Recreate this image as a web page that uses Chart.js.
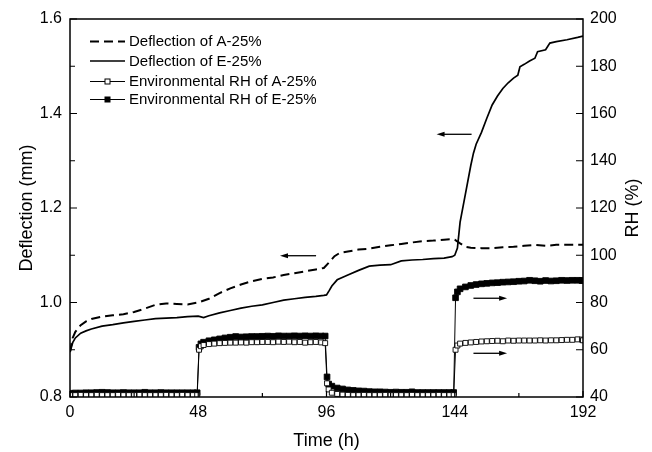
<!DOCTYPE html>
<html>
<head>
<meta charset="utf-8">
<script src="https://cdn.jsdelivr.net/npm/chart.js@4.4.1/dist/chart.umd.min.js"></script>
<style>
  body { margin: 0; background: #fff; }
  #wrap { width: 652px; height: 452px; }
</style>
</head>
<body>
<div id="wrap"><canvas id="chart"></canvas></div>
<script>
// Прогиб (мм)
const defATimes = [0,1,2,4,6,8,12,16,20,24,28,32,36,40,44,48,52,56,60,64,68,72,76,80,84,88,92,95,97,99,101,104,108,112,116,120,124,128,132,136,140,143,144,146,148,150,154,158,162,166,170,174,178,182,186,192];
const defA = [0.895,0.925,0.938,0.952,0.960,0.965,0.970,0.973,0.975,0.980,0.987,0.995,0.998,0.997,0.996,1.000,1.008,1.020,1.030,1.038,1.045,1.050,1.053,1.058,1.062,1.066,1.070,1.073,1.085,1.098,1.105,1.108,1.112,1.114,1.118,1.121,1.124,1.127,1.130,1.131,1.133,1.134,1.133,1.125,1.118,1.116,1.115,1.115,1.117,1.118,1.120,1.122,1.120,1.122,1.122,1.122];

const defETimes = [0,1,2,4,6,8,12,16,20,24,28,32,36,40,44,48,50,52,56,60,64,68,72,76,80,84,88,92,95,96,97,98,100,104,108,112,116,120,124,128,132,136,140,143,144,145,146,148,150,151,152,154,156,158,160,162,164,166,167.6,168.4,170,172,174,175,178,179.6,182,186,190,192];
const defE = [0.895,0.915,0.925,0.935,0.940,0.944,0.950,0.953,0.957,0.960,0.963,0.966,0.967,0.968,0.970,0.971,0.968,0.972,0.978,0.983,0.988,0.992,0.995,1.000,1.005,1.008,1.011,1.013,1.015,1.016,1.025,1.035,1.048,1.058,1.068,1.077,1.079,1.080,1.088,1.090,1.091,1.093,1.094,1.097,1.100,1.115,1.170,1.230,1.290,1.316,1.335,1.360,1.390,1.418,1.437,1.453,1.465,1.475,1.481,1.499,1.504,1.511,1.517,1.531,1.535,1.549,1.552,1.556,1.561,1.564];

// Влажность (%)
const rhTimes = [
  0,2,4,6,8,10,12,14,16,18,20,22,24,26,28,30,32,34,36,38,40,42,44,46,47.6,
  48.3,49,50,52,54,56,58,60,62,64,66,68,70,72,74,76,78,80,82,84,86,88,90,92,94,95.5,
  96.2,96.8,98,100,102,104,106,108,110,112,114,116,118,120,122,124,126,128,130,132,134,136,138,140,142,143.6,
  144.3,145,146,148,150,152,154,156,158,160,162,164,166,168,170,172,174,176,178,180,182,184,186,188,190,191.6,192
];
const rhA = [
  40.8,40.8,40.9,40.8,40.8,40.9,40.8,40.8,40.8,40.9,40.8,40.8,40.8,40.9,40.8,40.8,40.8,40.8,40.9,40.8,40.8,40.9,40.8,40.8,40.8,
  60.0,61.5,62.0,62.4,62.6,62.8,62.9,63.0,63.0,63.1,63.0,63.2,63.2,63.3,63.3,63.2,63.4,63.3,63.4,63.2,63.3,63.0,63.2,63.3,63.1,62.8,
  45.8,43.2,41.8,41.3,41.0,40.9,40.8,40.8,40.9,40.8,40.8,40.8,40.9,40.8,40.8,40.8,40.8,40.9,40.8,40.8,40.8,40.8,40.9,40.8,40.8,40.8,
  60.0,61.8,62.6,62.9,63.1,63.3,63.5,63.6,63.7,63.8,63.6,63.9,63.8,63.9,63.9,63.9,63.9,64.0,63.9,64.0,64.0,64.1,64.2,64.2,64.4,64.3,64.0
];
const rhE = [
  41.6,41.7,41.7,41.8,41.8,41.9,42.0,41.9,41.8,41.8,41.9,41.8,41.8,41.8,42.0,41.8,41.8,41.9,41.8,41.8,41.8,41.8,41.8,41.8,41.8,
  61.0,62.5,63.2,63.8,64.2,64.6,65.0,65.3,65.6,65.4,65.5,65.6,65.6,65.7,65.8,65.7,65.9,65.8,65.8,65.9,65.8,65.9,65.8,65.9,65.8,65.8,
  48.5,45.5,44.6,43.8,43.4,43.0,42.8,42.6,42.5,42.3,42.2,42.2,42.1,42.0,42.1,42.0,42.0,42.2,41.9,41.9,41.9,41.9,41.9,41.9,41.9,41.9,
  82.0,84.5,85.8,86.6,87.2,87.6,87.9,88.1,88.3,88.4,88.6,88.7,88.8,89.0,89.1,89.4,89.2,89.0,89.3,89.1,89.2,89.4,89.3,89.4,89.4,89.3,89.3
];

const seriesNames = ['Deflection of A-25%', 'Deflection of E-25%', 'Environmental RH of A-25%', 'Environmental RH of E-25%'];
const xTicks = [0, 48, 96, 144, 192];

// Стрелки-указатели осей
const arrows = [
  { from: 150.3, to: 137.2, y: 1.356, axis: 'y' },
  { from: 92.1, to: 78.6, y: 1.099, axis: 'y' },
  { from: 151, to: 163.6, y: 81.8, axis: 'y1' },
  { from: 151, to: 163.6, y: 58.5, axis: 'y1' }
];

const FONT = "'Liberation Sans', Arial, sans-serif";
Chart.defaults.font.family = FONT;
Chart.defaults.color = '#000';

function pairs(xs, ys) {
  return xs.map((x, i) => ({ x: x, y: ys[i] }));
}

// Рамка, внутренние засечки и подпись правой оси
const framePlugin = {
  id: 'frame',
  afterDraw(chart) {
    const ctx = chart.ctx;
    const a = chart.chartArea;
    const sx = chart.scales.x, sy = chart.scales.y, sy1 = chart.scales.y1;
    ctx.save();
    ctx.strokeStyle = '#000';
    ctx.lineWidth = 1.5;
    ctx.strokeRect(a.left, a.top, a.right - a.left, a.bottom - a.top);
    ctx.lineWidth = 1.2;
    ctx.beginPath();
    for (let v = 0; v <= 192; v += 24) {
      const px = sx.getPixelForValue(v);
      const len = v % 48 === 0 ? 6 : 4;
      ctx.moveTo(px, a.bottom); ctx.lineTo(px, a.bottom - len);
    }
    for (let i = 0; i <= 8; i++) {
      const py = sy.getPixelForValue(0.8 + i * 0.1);
      const len = i % 2 === 0 ? 7 : 5;
      ctx.moveTo(a.left, py); ctx.lineTo(a.left + len, py);
    }
    for (let v = 40; v <= 200; v += 20) {
      const py = sy1.getPixelForValue(v);
      ctx.moveTo(a.right, py); ctx.lineTo(a.right - 7, py);
    }
    ctx.stroke();

    ctx.translate(633, (a.top + a.bottom) / 2);
    ctx.rotate(-Math.PI / 2);
    ctx.font = '18px ' + FONT;
    ctx.fillStyle = '#000';
    ctx.textAlign = 'center';
    ctx.textBaseline = 'middle';
    ctx.fillText('RH (%)', 0, 0);
    ctx.restore();
  }
};

// Легенда и стрелки
const notesPlugin = {
  id: 'notes',
  afterDatasetsDraw(chart) {
    const ctx = chart.ctx;
    ctx.save();
    ctx.strokeStyle = '#000';
    ctx.fillStyle = '#000';
    arrows.forEach(ar => {
      const x1 = chart.scales.x.getPixelForValue(ar.from);
      const x2 = chart.scales.x.getPixelForValue(ar.to);
      const y = chart.scales[ar.axis].getPixelForValue(ar.y);
      const dir = Math.sign(x2 - x1);
      ctx.lineWidth = 1.3;
      ctx.beginPath();
      ctx.moveTo(x1, y); ctx.lineTo(x2 - dir * 6, y);
      ctx.stroke();
      ctx.beginPath();
      ctx.moveTo(x2, y);
      ctx.lineTo(x2 - dir * 8, y - 2.5);
      ctx.lineTo(x2 - dir * 8, y + 2.5);
      ctx.closePath();
      ctx.fill();
    });

    const rows = [41.5, 61, 81.5, 99.5];
    const lx1 = 90, lx2 = 125;
    ctx.font = '15px ' + FONT;
    ctx.textBaseline = 'middle';
    chart.data.datasets.forEach((ds, i) => {
      const y = rows[i];
      ctx.save();
      ctx.lineWidth = ds.borderWidth;
      ctx.setLineDash(ds.borderDash || []);
      ctx.beginPath();
      ctx.moveTo(lx1, y); ctx.lineTo(lx2, y);
      ctx.stroke();
      ctx.restore();
      if (ds.pointRadius > 0) {
        const cx = (lx1 + lx2) / 2;
        ctx.fillStyle = ds.pointBackgroundColor;
        ctx.fillRect(cx - 2.5, y - 2.5, 5, 5);
        ctx.lineWidth = 1;
        ctx.strokeRect(cx - 2.5, y - 2.5, 5, 5);
        ctx.fillStyle = '#000';
      }
      ctx.fillText(ds.label, 129, y + 0.5);
    });
    ctx.restore();
  }
};

new Chart(document.getElementById('chart'), {
  type: 'line',
  data: {
    datasets: [
      {
        label: seriesNames[0],
        data: pairs(defATimes, defA),
        yAxisID: 'y',
        borderColor: '#000',
        borderWidth: 2,
        borderDash: [9, 5],
        pointRadius: 0,
        tension: 0
      },
      {
        label: seriesNames[1],
        data: pairs(defETimes, defE),
        yAxisID: 'y',
        borderColor: '#000',
        borderWidth: 1.7,
        pointRadius: 0,
        tension: 0
      },
      {
        label: seriesNames[2],
        data: pairs(rhTimes, rhA),
        yAxisID: 'y1',
        borderColor: '#000',
        borderWidth: 1,
        pointStyle: 'rect',
        pointRadius: 3.5,
        pointBorderWidth: 0.9,
        pointBorderColor: '#000',
        pointBackgroundColor: '#fff',
        tension: 0
      },
      {
        label: seriesNames[3],
        data: pairs(rhTimes, rhE),
        yAxisID: 'y1',
        borderColor: '#000',
        borderWidth: 1,
        pointStyle: 'rect',
        pointRadius: 4,
        pointBorderWidth: 0.9,
        pointBorderColor: '#000',
        pointBackgroundColor: '#000',
        tension: 0
      }
    ]
  },
  options: {
    responsive: true,
    maintainAspectRatio: false,
    animation: false,
    layout: { padding: { top: 19, left: 0, right: 0, bottom: 0 } },
    plugins: {
      legend: { display: false },
      tooltip: { enabled: false }
    },
    scales: {
      x: {
        type: 'linear',
        min: 0,
        max: 192,
        afterBuildTicks: s => { s.ticks = xTicks.map(v => ({ value: v })); },
        afterFit: s => { s.height = 55; },
        grid: { display: false, drawTicks: false },
        border: { display: false },
        ticks: { font: { size: 16 }, padding: 6, maxRotation: 0 },
        title: { display: true, text: 'Time (h)', font: { size: 18 }, padding: { top: 0, bottom: 0 } }
      },
      y: {
        position: 'left',
        min: 0.8,
        max: 1.6,
        afterFit: s => { s.width = 70; },
        grid: { display: false, drawTicks: false },
        border: { display: false },
        ticks: { stepSize: 0.2, font: { size: 16 }, padding: 8, callback: v => v.toFixed(1) },
        title: { display: true, text: 'Deflection (mm)', font: { size: 18 }, padding: { top: 16, bottom: 0 } }
      },
      y1: {
        position: 'right',
        min: 40,
        max: 200,
        afterFit: s => { s.width = 69; },
        grid: { display: false, drawTicks: false },
        border: { display: false },
        ticks: { stepSize: 20, font: { size: 16 }, padding: 7 },
        title: { display: false }
      }
    }
  },
  plugins: [framePlugin, notesPlugin]
});
</script>
</body>
</html>
